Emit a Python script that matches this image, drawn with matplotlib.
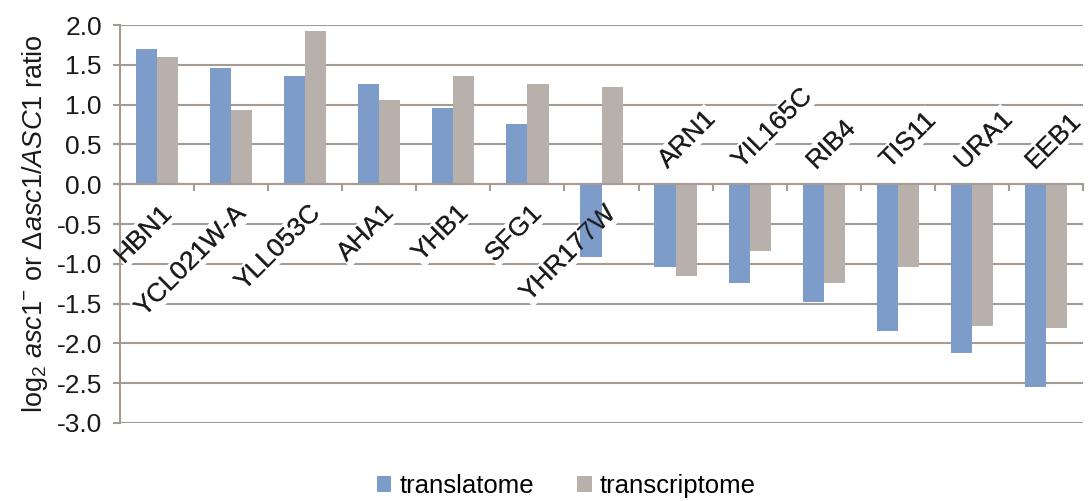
import numpy as np
import matplotlib
matplotlib.use("Agg")
import matplotlib.pyplot as plt

plt.rcParams['font.family'] = ['Liberation Sans', 'DejaVu Sans']
plt.rcParams['mathtext.fontset'] = 'custom'
plt.rcParams['mathtext.rm'] = 'Liberation Sans'
plt.rcParams['mathtext.it'] = 'Liberation Sans:style=italic'
plt.rcParams['mathtext.bf'] = 'Liberation Sans:bold'

# data
genes = ['HBN1', 'YCL021W-A', 'YLL053C', 'AHA1', 'YHB1', 'SFG1', 'YHR177W',
         'ARN1', 'YIL165C', 'RIB4', 'TIS11', 'URA1', 'EEB1']
translatome = [1.70, 1.46, 1.36, 1.26, 0.96, 0.76, -0.92,
               -1.04, -1.24, -1.48, -1.85, -2.12, -2.55]
transcriptome = [1.60, 0.93, 1.93, 1.06, 1.36, 1.26, 1.22,
                 -1.15, -0.84, -1.24, -1.04, -1.78, -1.81]

blue = '#7d9cca'
grey = '#b8b1ab'
line_col = '#a39b94'
txt_col = '#1a1a1a'

fig = plt.figure(figsize=(10.89, 5.01), dpi=100)
ax = fig.add_axes([0.1102, 0.1557, 0.8843, 0.7943])

x = np.arange(len(genes))
w = 0.285
ax.bar(x - w / 2, translatome, w, color=blue, label='translatome', zorder=2)
ax.bar(x + w / 2, transcriptome, w, color=grey, label='transcriptome', zorder=2)

ax.set_xlim(-0.5, len(genes) - 0.5)
ax.set_ylim(-3.0, 2.0)
yt = np.arange(-3.0, 2.01, 0.5)
ax.set_yticks(yt)
ax.set_yticklabels(['%.1f' % v for v in yt], fontsize=19)
ax.yaxis.grid(True, color=line_col, lw=1.5, zorder=0)
ax.set_axisbelow(True)

ax.spines['top'].set_visible(False)
ax.spines['right'].set_visible(False)
ax.spines['left'].set_color(line_col)
ax.spines['left'].set_linewidth(1.5)
ax.spines['bottom'].set_position(('data', 0))
ax.spines['bottom'].set_color(line_col)
ax.spines['bottom'].set_linewidth(1.5)
ax.spines['bottom'].set_zorder(2.5)

ax.set_xticks(np.arange(-0.5, len(genes), 1.0))
ax.set_xticklabels([])
ax.tick_params(axis='x', direction='out', length=5, width=1.5, color=line_col)
ax.tick_params(axis='y', direction='out', length=5, width=1.5, color=line_col,
               pad=8, labelcolor=txt_col)

# gene labels: below zero for up-regulated, above zero for down-regulated
labels = []
for i, g in enumerate(genes):
    if translatome[i] + transcriptome[i] > 0:
        kw = dict(x=i + 0.04, y=-0.2, ha='right', va='top')
    else:
        kw = dict(x=i - 0.06, y=0.15, ha='left', va='bottom')
    t1 = ax.text(s=g, rotation=45, rotation_mode='anchor', fontsize=19,
                 color=txt_col, zorder=1.5,
                 bbox=dict(facecolor='white', edgecolor='none', pad=1), **kw)
    t2 = ax.text(s=g, rotation=45, rotation_mode='anchor', fontsize=19,
                 color=txt_col, zorder=3, **kw)
    labels.append((t1, t2))

ax.set_ylabel(r'log$_2$ $\mathit{asc1}^{-}$ or $\Delta\mathit{asc1/ASC1}$ ratio',
              fontsize=19.5, color=txt_col, labelpad=5)

fig.legend(loc='lower center', bbox_to_anchor=(0.52, -0.04), ncol=2,
           frameon=False, fontsize=18.5, handlelength=0.55, handleheight=0.55,
           handletextpad=0.3, columnspacing=1.7)

# keep the last labels inside the figure
fig.canvas.draw()
renderer = fig.canvas.get_renderer()
fig_w = fig.bbox.width
px_per_cat = ax.bbox.width / len(genes)
for t1, t2 in labels:
    over = t1.get_window_extent(renderer).x1 - (fig_w - 3)
    if over > 0:
        px, py = t1.get_position()
        for t in (t1, t2):
            t.set_position((px - over / px_per_cat, py))

fig.savefig('out.png', dpi=100)
